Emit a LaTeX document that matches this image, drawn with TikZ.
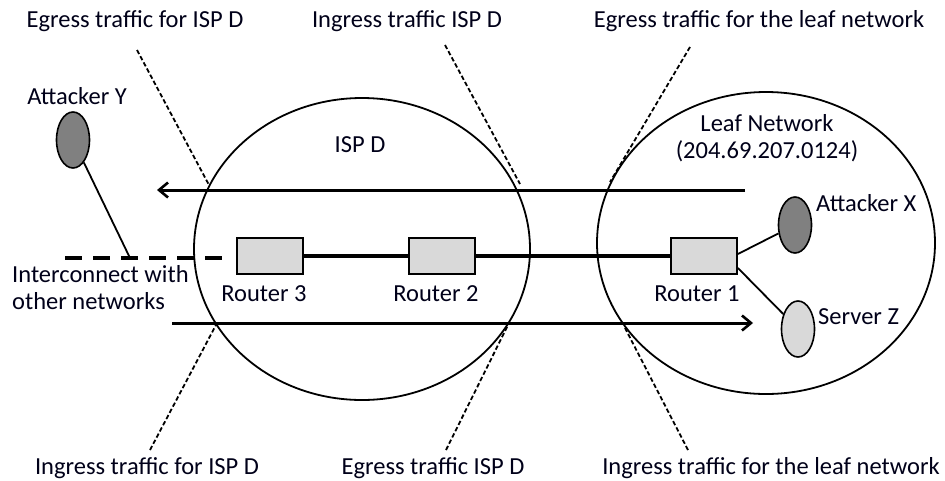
\documentclass[tikz,border=0pt]{standalone}
\usepackage{fontspec}
\setmainfont{Carlito}
\usetikzlibrary{shapes.geometric,arrows.meta}
\begin{document}
\begin{tikzpicture}[x=1pt,y=-1pt,
  lbl/.style={font=\fontsize{24.5}{27}\selectfont, text=black!90!blue, inner sep=0pt},
  net/.style={draw, ellipse, line width=1.8pt, inner sep=0pt},
  router/.style={draw, line width=1.8pt, fill=gray!30, minimum width=66pt, minimum height=36pt, inner sep=0pt},
  host/.style={draw, ellipse, line width=1.6pt, inner sep=0pt, minimum width=33pt, minimum height=56pt},
  traffic/.style={line width=3pt, -{Straight Barb[length=9pt,width=15pt,line width=2.6pt]}},
  boundary/.style={line width=1.8pt, dash pattern=on 4.5pt off 2.5pt},
  link/.style={line width=3.4pt},
  thinlink/.style={line width=1.8pt}
]
\useasboundingbox (0,0) rectangle (945,480);
\fill[white] (0,0) rectangle (945,480);

% networks
\node[net, minimum width=336pt, minimum height=302pt] (isp) at (362,249) {};
\node[net, minimum width=338pt, minimum height=302pt] (leaf) at (766,243) {};
\node[lbl] (isplbl) at (360,145) {ISP D};
\node[lbl, align=center] (leaflbl) at (767,138) {Leaf Network\\(204.69.207.0124)};

% routers
\node[router] (r3) at (270,256) {};
\node[router] (r2) at (442,256) {};
\node[router] (r1) at (704,256) {};
\node[lbl] (r3l) at (264,294) {Router 3};
\node[lbl] (r2l) at (436,294) {Router 2};
\node[lbl] (r1l) at (697,294) {Router 1};
\draw[link] (r3) -- (r2);
\draw[link] (r2) -- (r1);

% hosts
\node[host, fill=gray] (ay) at (73,140) {};
\node[host, fill=gray] (ax) at (795,225) {};
\node[host, fill=gray!30] (sz) at (798,329) {};
\node[lbl] (ayl) at (77,96) {Attacker Y};
\node[lbl, anchor=west] (axl) at (816,203) {Attacker X};
\node[lbl, anchor=west] (szl) at (818,317) {Server Z};
\draw[thinlink] (r1.east |- 0,254) -- (ax);
\draw[thinlink] (r1.east |- 0,268) -- (sz);

% interconnect
\coordinate (ic1) at (65,258);
\coordinate (ic2) at (130,258);
\draw[line width=3.4pt, dash pattern=on 17pt off 11pt, shorten >=12pt] (ic1) -- (r3.west |- ic1);
\draw[thinlink] (ay) -- (ic2);
\node[lbl, align=left, anchor=west] (icl) at (12,288) {Interconnect with\\other networks};

% traffic arrows
\coordinate (ta1) at (745,190);
\coordinate (ta2) at (157,190);
\coordinate (tb1) at (172,323);
\coordinate (tb2) at (753,323);
\draw[traffic] (ta1) -- (ta2);
\draw[traffic] (tb1) -- (tb2);

% boundary labels
\node[lbl] (t1) at (135,21) {Egress traffic for ISP D};
\node[lbl] (t2) at (407,21) {Ingress traffic ISP D};
\node[lbl] (t3) at (759,21) {Egress traffic for the leaf network};
\node[lbl] (b1) at (147,468) {Ingress traffic for ISP D};
\node[lbl] (b2) at (433,468) {Egress traffic ISP D};
\node[lbl] (b3) at (771,468) {Ingress traffic for the leaf network};

% boundary lines
\coordinate (d1a) at (137,50);  \coordinate (d1b) at (209,185);
\coordinate (d2a) at (445,45);  \coordinate (d2b) at (520,184);
\coordinate (d3a) at (690,47);  \coordinate (d3b) at (610,182);
\coordinate (d4a) at (150,450); \coordinate (d4b) at (217,323);
\coordinate (d5a) at (446,450); \coordinate (d5b) at (508,325);
\coordinate (d6a) at (688,450); \coordinate (d6b) at (625,328);
\draw[boundary] (d1a) -- (d1b);
\draw[boundary] (d2a) -- (d2b);
\draw[boundary] (d3a) -- (d3b);
\draw[boundary] (d4a) -- (d4b);
\draw[boundary] (d5a) -- (d5b);
\draw[boundary] (d6a) -- (d6b);
\end{tikzpicture}
\end{document}
